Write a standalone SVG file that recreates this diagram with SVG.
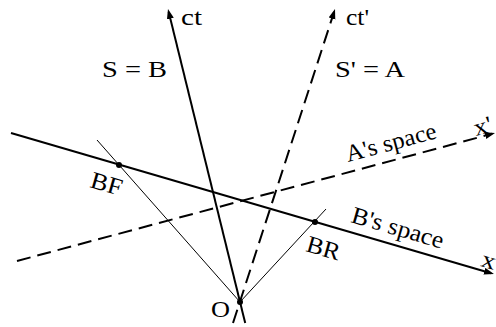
<svg xmlns="http://www.w3.org/2000/svg" width="496" height="327" viewBox="0 0 496 327">
<defs>
<marker id="arr" markerUnits="userSpaceOnUse" markerWidth="12" markerHeight="8" refX="7" refY="3.5" orient="auto">
<path d="M0,0 L10,3.5 L0,7 z" fill="#000"/>
</marker>
<style>
.axis{stroke:#000;stroke-width:2;fill:none}
.dash{stroke-dasharray:14 7}
.thin{stroke:#000;stroke-width:1;fill:none}
.lbl{font-family:"Liberation Serif","Times New Roman",serif;font-size:24px;fill:#000}
</style>
</defs>
<rect width="496" height="327" fill="#fff"/>
<g id="connectors">
<line class="axis" x1="245.2" y1="323" x2="168.7" y2="11.9" marker-end="url(#arr)"/>
<line class="axis dash" x1="233" y1="323" x2="334.1" y2="11.9" marker-end="url(#arr)"/>
<line class="axis" x1="11" y1="133" x2="491.1" y2="273.2" marker-end="url(#arr)"/>
<line class="axis dash" x1="17" y1="261" x2="492.1" y2="133.8" marker-end="url(#arr)"/>
<line class="thin" x1="97" y1="140" x2="240" y2="302"/>
<line class="thin" x1="326" y1="209" x2="240" y2="302"/>
</g>
<g id="O">
<circle cx="240" cy="302" r="3"/>
<text class="lbl" font-family="Liberation Serif" font-size="24" x="211" y="317" textLength="19" lengthAdjust="spacingAndGlyphs">O</text>
</g>
<g id="BF">
<circle cx="119" cy="165" r="3"/>
<text class="lbl" font-family="Liberation Serif" font-size="24" x="89" y="187" transform="rotate(16 89 187)" textLength="32" lengthAdjust="spacingAndGlyphs">BF</text>
</g>
<g id="BR">
<circle cx="315" cy="222" r="3"/>
<text class="lbl" font-family="Liberation Serif" font-size="24" x="305" y="251" transform="rotate(16 305 251)" textLength="34" lengthAdjust="spacingAndGlyphs">BR</text>
</g>
<g id="ct">
<text class="lbl" font-family="Liberation Serif" font-size="24" x="181" y="25" textLength="21" lengthAdjust="spacingAndGlyphs">ct</text>
</g>
<g id="ctp">
<text class="lbl" font-family="Liberation Serif" font-size="24" x="346" y="25" textLength="23" lengthAdjust="spacingAndGlyphs">ct'</text>
</g>
<g id="SB">
<text class="lbl" font-family="Liberation Serif" font-size="24" x="102" y="77" textLength="65" lengthAdjust="spacingAndGlyphs">S = B</text>
</g>
<g id="SA">
<text class="lbl" font-family="Liberation Serif" font-size="24" x="335" y="77" textLength="70" lengthAdjust="spacingAndGlyphs">S' = A</text>
</g>
<g id="Aspace">
<text class="lbl" font-family="Liberation Serif" font-size="24" x="348" y="162" transform="rotate(-15 348 162)" textLength="93" lengthAdjust="spacingAndGlyphs">A's space</text>
</g>
<g id="Bspace">
<text class="lbl" font-family="Liberation Serif" font-size="24" x="350" y="222" transform="rotate(16.3 350 222)" textLength="95" lengthAdjust="spacingAndGlyphs">B's space</text>
</g>
<g id="x">
<text class="lbl" font-family="Liberation Serif" font-size="24" x="480" y="266" transform="rotate(16 480 266)" textLength="14" lengthAdjust="spacingAndGlyphs">x</text>
</g>
<g id="xp">
<text class="lbl" font-family="Liberation Serif" font-size="24" x="476" y="136" transform="rotate(-15 476 136)" textLength="18" lengthAdjust="spacingAndGlyphs">x'</text>
</g>
</svg>
